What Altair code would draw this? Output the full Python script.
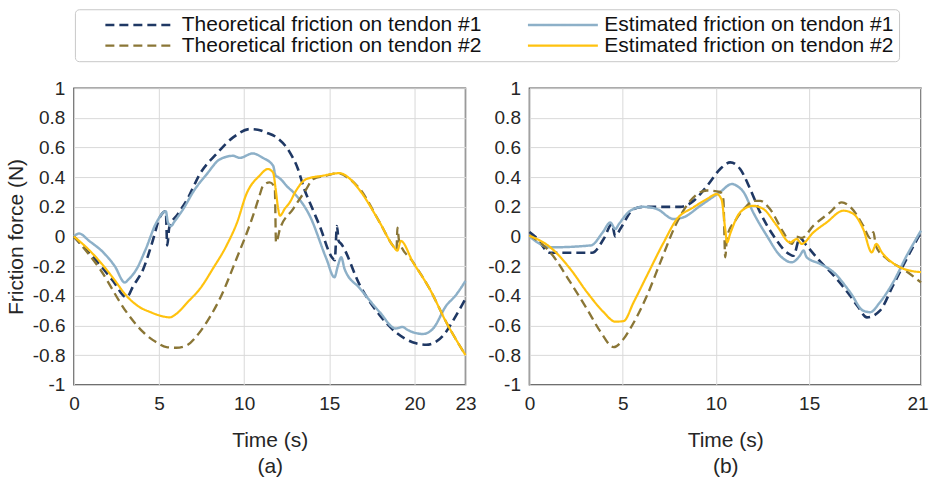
import altair as alt
import pandas as pd

SERIES = ["Theoretical friction on tendon #1", "Estimated friction on tendon #1",
          "Theoretical friction on tendon #2", "Estimated friction on tendon #2"]
COLORS = ["#1f3864", "#8db0c8", "#8a7636", "#ffc20e"]
DASHES = [[9, 5], [1, 0], [9, 5], [1, 0]]
WIDTHS = [2.6, 2.2, 2.6, 2.2]

Y_TICKS = [-1, -0.8, -0.6, -0.4, -0.2, 0, 0.2, 0.4, 0.6, 0.8, 1]
A_X_TICKS = [0, 5, 10, 15, 20, 23]
B_X_TICKS = [0, 5, 10, 15, 21]

# ---------------- Panel (a) ----------------
a_t1_t = [0, 0.8, 1.53, 2.3, 3.09, 3.5, 4.07, 4.6, 5.05, 5.4, 5.48, 5.6, 6.1, 6.7, 7.39, 8.37, 9.35,
          10.33, 10.8, 11.3, 11.9, 12.68, 13.16, 13.5, 14.0, 14.44, 15.15, 15.32, 15.45, 15.55, 15.7,
          16.8, 17.96, 18.9, 20.1, 20.7, 21.67, 22.46, 23]
a_t1_y = [0, -0.1, -0.19, -0.3, -0.41, -0.33, -0.22, -0.04, 0.13, 0.17, -0.06, 0.06, 0.15, 0.26, 0.42,
          0.556, 0.668, 0.724, 0.72, 0.70, 0.668, 0.567, 0.455, 0.33, 0.19, 0.07, -0.14, -0.16, 0.07,
          -0.03, -0.05, -0.33, -0.53, -0.645, -0.72, -0.73, -0.67, -0.53, -0.42]

a_e1_t = [0, 0.3, 0.9, 1.72, 2.4, 2.99, 3.2, 3.68, 4.2, 4.85, 5.4, 5.52, 5.7, 5.9, 6.5, 7.0, 7.8, 8.57,
          9.35, 9.74, 10.5, 11.1, 11.7, 11.85, 12.0, 12.2, 12.5, 12.87, 13.85, 14.83, 15.3, 15.5, 15.7,
          15.9, 16.8, 17.96, 18.9, 19.3, 19.6, 20.5, 21.1, 21.87, 22.4, 23]
a_e1_y = [0, 0.02, -0.03, -0.107, -0.2, -0.31, -0.29, -0.22, -0.09, 0.095, 0.17, 0.095, 0.07, 0.1, 0.2,
          0.3, 0.42, 0.52, 0.544, 0.53, 0.56, 0.53, 0.477, 0.41, 0.4, 0.38, 0.34, 0.3, 0.14, -0.15,
          -0.275, -0.2, -0.14, -0.22, -0.35, -0.51, -0.62, -0.61, -0.63, -0.657, -0.62, -0.466, -0.4, -0.3]

a_t2_t = [0, 1.53, 3.09, 4.07, 4.8, 5.44, 6.0, 6.61, 7.39, 8.0, 8.57, 9.55, 10.52, 10.9, 11.1, 11.5,
          11.8, 11.87, 12.1, 12.87, 13.65, 14.04, 14.83, 15.5, 16.2, 16.8, 17.96, 18.74, 18.95, 19.0,
          19.1, 19.9, 20.9, 21.87, 23]
a_t2_y = [0, -0.22, -0.51, -0.645, -0.71, -0.746, -0.75, -0.735, -0.645, -0.54, -0.42, -0.15, 0.14,
          0.275, 0.34, 0.365, 0.33, -0.04, 0.05, 0.185, 0.32, 0.387, 0.41, 0.427, 0.387, 0.32, 0.095,
          -0.062, -0.09, 0.06, -0.03, -0.17, -0.354, -0.578, -0.80]

a_e2_t = [0, 0.7, 1.53, 2.3, 3.09, 3.87, 4.5, 5.05, 5.63, 6.03, 6.7, 7.39, 8.2, 8.96, 9.6, 10.13, 10.9,
          11.4, 11.7, 11.85, 12.0, 12.1, 12.4, 12.68, 13.0, 13.65, 14.63, 15.6, 16.2, 16.8, 17.96,
          18.74, 19.0, 19.2, 19.9, 20.9, 21.87, 23]
a_e2_y = [0, -0.07, -0.17, -0.28, -0.40, -0.477, -0.51, -0.533, -0.545, -0.52, -0.44, -0.354, -0.21,
          -0.062, 0.1, 0.286, 0.41, 0.455, 0.43, 0.32, 0.185, 0.14, 0.19, 0.23, 0.3, 0.387, 0.41, 0.427,
          0.39, 0.31, 0.095, -0.062, -0.095, -0.03, -0.17, -0.354, -0.578, -0.80]

# ---------------- Panel (b) ----------------
b_t1_t = [0, 0.3, 1.12, 3.36, 3.98, 4.43, 4.6, 4.87, 5.59, 6.1, 7.0, 8.09, 8.8, 9.52, 10.23, 10.77,
          11.3, 11.84, 12.37, 13.09, 13.8, 14.16, 14.5, 14.87, 15.6, 16.3, 17.2, 17.6, 18.1, 18.8,
          19.5, 20.23, 21]
b_t1_y = [0.03, 0.0, -0.11, -0.11, -0.017, 0.084, 0.0, 0.05, 0.185, 0.2, 0.2, 0.2, 0.24, 0.34, 0.455,
          0.5, 0.455, 0.32, 0.163, 0.005, -0.107, -0.13, -0.01, -0.062, -0.17, -0.26, -0.4, -0.47,
          -0.545, -0.5, -0.33, -0.15, 0.03]

b_e1_t = [0, 1.12, 3.3, 3.93, 4.34, 4.6, 4.8, 5.41, 6.1, 6.84, 7.73, 8.27, 9.16, 10.23, 10.86, 11.1,
          11.48, 12.0, 12.73, 13.45, 14.07, 14.5, 14.7, 14.87, 15.6, 16.3, 17.2, 17.9, 18.27, 18.8,
          19.5, 20.23, 21]
b_e1_y = [0, -0.073, -0.06, 0.028, 0.095, 0.05, 0.084, 0.174, 0.2, 0.185, 0.118, 0.13, 0.207, 0.3,
          0.354, 0.343, 0.3, 0.163, 0.005, -0.13, -0.174, -0.13, -0.095, -0.14, -0.185, -0.24, -0.376,
          -0.5, -0.51, -0.443, -0.31, -0.13, 0.04]

b_t2_t = [0, 1.12, 2.2, 3.09, 3.8, 4.52, 5.05, 5.41, 6.3, 7.02, 7.91, 8.62, 9.52, 10.23, 10.4, 10.5,
          10.6, 11.1, 11.66, 12.0, 12.37, 12.9, 13.62, 14.07, 14.3, 14.6, 15.23, 16.12, 16.75, 17.2,
          17.9, 18.27, 18.45, 18.58, 19.16, 20.05, 21]
b_t2_y = [0.01, -0.107, -0.31, -0.49, -0.64, -0.746, -0.69, -0.62, -0.4, -0.174, 0.095, 0.24, 0.31,
          0.3, 0.25, -0.14, 0.0, 0.118, 0.207, 0.24, 0.24, 0.185, 0.028, -0.05, 0.0, -0.01, 0.073,
          0.163, 0.23, 0.2, 0.073, -0.01, 0.03, -0.065, -0.15, -0.22, -0.31]

b_e2_t = [0, 1.12, 2.2, 3.09, 3.98, 4.6, 5.05, 5.59, 6.3, 7.2, 7.91, 8.8, 9.52, 10.05, 10.3, 10.5,
          10.6, 10.77, 11.3, 12.0, 12.55, 13.27, 13.98, 14.34, 14.6, 15.23, 15.94, 16.84, 17.38, 17.9,
          18.36, 18.6, 18.9, 19.7, 20.4, 21]
b_e2_y = [0.005, -0.073, -0.22, -0.376, -0.51, -0.574, -0.57, -0.443, -0.264, -0.04, 0.118, 0.197,
          0.253, 0.286, 0.25, 0.05, -0.04, 0.02, 0.163, 0.207, 0.185, 0.073, -0.04, -0.017, -0.05,
          0.028, 0.095, 0.174, 0.152, 0.05, -0.107, -0.05, -0.107, -0.196, -0.23, -0.24]


def long_df(pairs):
    rows = []
    for name, ts, ys in pairs:
        for t, y in zip(ts, ys):
            rows.append({"series": name, "t": t, "f": y})
    return pd.DataFrame(rows)


df_a = long_df([(SERIES[0], a_t1_t, a_t1_y), (SERIES[1], a_e1_t, a_e1_y),
                (SERIES[2], a_t2_t, a_t2_y), (SERIES[3], a_e2_t, a_e2_y)])
df_b = long_df([(SERIES[0], b_t1_t, b_t1_y), (SERIES[1], b_e1_t, b_e1_y),
                (SERIES[2], b_t2_t, b_t2_y), (SERIES[3], b_e2_t, b_e2_y)])

NBSP = "\u00a0"
LEGEND = alt.Legend(
    title=NBSP, titleOrient="left", titlePadding=22, titleFontSize=10,
    orient="none", legendX=1, legendY=-79, columns=2, direction="horizontal",
    symbolType="M-1,0H9", symbolSize=196, symbolStrokeWidth=2.4, labelOffset=59,
    labelFont="Liberation Sans", labelFontSize=21, labelColor="#111111",
    labelLimit=500, columnPadding=40, rowPadding=-5, padding=5,
    strokeColor="#c8c8c8", cornerRadius=4, fillColor="#ffffff",
)

LABEL_EXPR = "replace(format(datum.value, '.1~f'), '\u2212', '-')"


def panel(df, xmax, xticks, letter, ytitle):
    if ytitle:
        yaxis = alt.Axis(values=Y_TICKS, labelExpr=LABEL_EXPR, labelPadding=9, titlePadding=6,
                         title="Friction force (N)")
    else:
        yaxis = alt.Axis(values=Y_TICKS, labelExpr=LABEL_EXPR, labelPadding=9, title=None)
    last = xticks[-1]
    xaxis = alt.Axis(
        values=xticks, title=["Time (s)", letter], labelFlush=False,
        labelPadding=10, titlePadding=16, titleLineHeight=26,
        labelAlign={"condition": {"test": f"datum.value == {last} && {last} == 21", "value": "right"},
                    "value": "center"},
        labelOffset={"condition": {"test": f"datum.value == {last} && {last} == 21", "value": 7},
                     "value": 0},
    )
    return alt.Chart(df).mark_line(interpolate="monotone").encode(
        x=alt.X("t:Q", scale=alt.Scale(domain=[0, xmax], nice=False, zero=False), axis=xaxis),
        y=alt.Y("f:Q", scale=alt.Scale(domain=[-1, 1], nice=False), axis=yaxis),
        color=alt.Color("series:N", scale=alt.Scale(domain=SERIES, range=COLORS), legend=LEGEND),
        strokeDash=alt.StrokeDash("series:N", scale=alt.Scale(domain=SERIES, range=DASHES), legend=LEGEND),
        strokeWidth=alt.StrokeWidth("series:N", scale=alt.Scale(domain=SERIES, range=WIDTHS), legend=None),
    ).properties(width=392, height=297)


chart = alt.hconcat(
    panel(df_a, 23, A_X_TICKS, "(a)", True),
    panel(df_b, 21, B_X_TICKS, "(b)", False),
    spacing=9,
).properties(
    padding={"left": 4, "top": 8, "right": 0, "bottom": 0}
).configure_view(
    stroke="#595959", strokeWidth=1.5
).configure_axis(
    labelFont="Liberation Sans", labelFontSize=19, labelColor="#262626",
    titleFont="Liberation Sans", titleFontSize=21, titleColor="#262626", titleFontWeight="normal",
    ticks=False, domain=False, grid=True, gridColor="#d9d9d9", gridWidth=1,
)

chart.save("out.html", embed_options={"renderer": "svg", "actions": False})
